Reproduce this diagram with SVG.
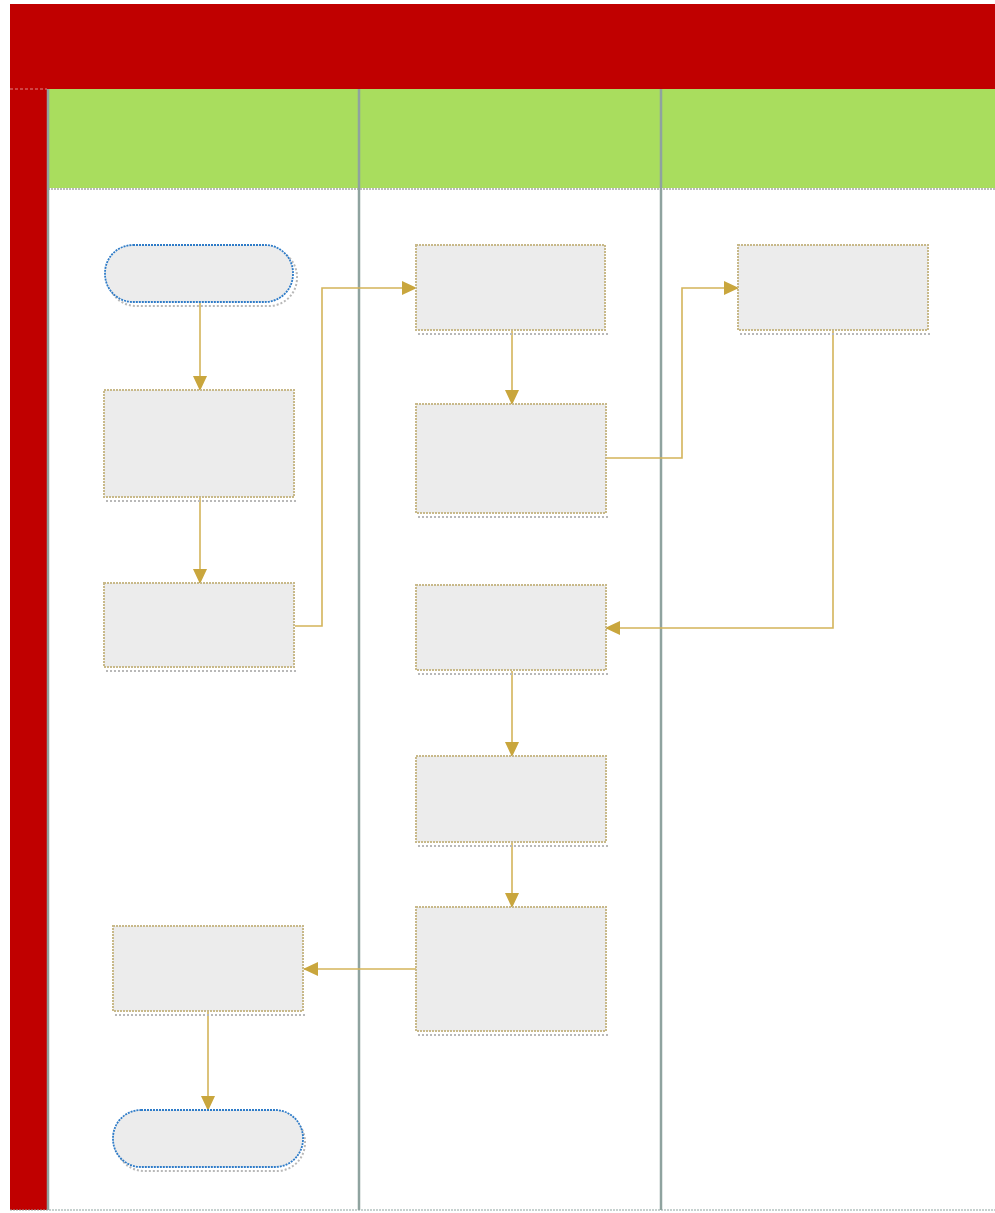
<svg xmlns="http://www.w3.org/2000/svg" width="995" height="1213" viewBox="0 0 995 1213">
<style>
.box{fill:#ECECEC;stroke:#C8B98A;stroke-width:2;stroke-dasharray:2 1}
.shadow{fill:none;stroke:#B8B8B8;stroke-width:2;stroke-dasharray:2 2}
.term{fill:#ECECEC;stroke:#2F7CC8;stroke-width:1.8;stroke-dasharray:2 1}
.conn{fill:none;stroke:#D4B45A;stroke-width:1.6}
.lane{stroke:#8FA39F;stroke-width:2.5}
</style>
<defs>
<marker id="arr" markerWidth="16" markerHeight="16" refX="14" refY="7" orient="auto" markerUnits="userSpaceOnUse">
<path d="M0,0 L15,7 L0,14 Z" fill="#C9A63D"/>
</marker>
</defs>
<rect x="0" y="0" width="995" height="1213" fill="#FFFFFF"/>
<g id="pool">
<rect x="10" y="4" width="985" height="85" fill="#C00000"/>
<rect x="10" y="89" width="37" height="1121" fill="#C00000"/>
<line x1="10" y1="89" x2="47" y2="89" stroke="#D88" stroke-width="1" stroke-dasharray="3 2"/>
<rect x="48" y="89" width="311" height="99" fill="#A9DD5E"/>
<rect x="360" y="89" width="301" height="99" fill="#A9DD5E"/>
<rect x="662" y="89" width="333" height="99" fill="#A9DD5E"/>
<line x1="48" y1="189" x2="995" y2="189" stroke="#BBBBBB" stroke-width="2" stroke-dasharray="2 1"/>
<line class="lane" x1="48" y1="89" x2="48" y2="1210"/>
<line class="lane" x1="359" y1="89" x2="359" y2="1210"/>
<line class="lane" x1="661" y1="89" x2="661" y2="1210"/>
<line x1="10" y1="1210" x2="995" y2="1210" stroke="#8FA39F" stroke-width="1" stroke-dasharray="2 1"/>
</g>
<g id="connectors">
<path class="conn" d="M200,303 V390" marker-end="url(#arr)"/>
<path class="conn" d="M200,498 V583" marker-end="url(#arr)"/>
<path class="conn" d="M295,626 H322 V288 H416" marker-end="url(#arr)"/>
<path class="conn" d="M512,331 V404" marker-end="url(#arr)"/>
<path class="conn" d="M607,458 H682 V288 H738" marker-end="url(#arr)"/>
<path class="conn" d="M833,331 V628 H606" marker-end="url(#arr)"/>
<path class="conn" d="M512,671 V756" marker-end="url(#arr)"/>
<path class="conn" d="M512,843 V907" marker-end="url(#arr)"/>
<path class="conn" d="M416,969 H304" marker-end="url(#arr)"/>
<path class="conn" d="M208,1012 V1110" marker-end="url(#arr)"/>
</g>
<g id="n1"><rect class="shadow" x="108" y="249" width="189" height="57" rx="28"/><rect class="term" x="105" y="245" width="188" height="57" rx="28"/></g>
<g id="n2"><line class="shadow" x1="106" y1="501" x2="296" y2="501"/><rect class="box" x="104" y="390" width="190" height="107"/></g>
<g id="n3"><line class="shadow" x1="106" y1="671" x2="296" y2="671"/><rect class="box" x="104" y="583" width="190" height="84"/></g>
<g id="n4"><line class="shadow" x1="418" y1="334" x2="608" y2="334"/><rect class="box" x="416" y="245" width="189" height="85"/></g>
<g id="n5"><line class="shadow" x1="418" y1="517" x2="608" y2="517"/><rect class="box" x="416" y="404" width="190" height="109"/></g>
<g id="n6"><line class="shadow" x1="740" y1="334" x2="930" y2="334"/><rect class="box" x="738" y="245" width="190" height="85"/></g>
<g id="n7"><line class="shadow" x1="418" y1="674" x2="608" y2="674"/><rect class="box" x="416" y="585" width="190" height="85"/></g>
<g id="n8"><line class="shadow" x1="418" y1="846" x2="608" y2="846"/><rect class="box" x="416" y="756" width="190" height="86"/></g>
<g id="n9"><line class="shadow" x1="418" y1="1035" x2="608" y2="1035"/><rect class="box" x="416" y="907" width="190" height="124"/></g>
<g id="n10"><line class="shadow" x1="115" y1="1015" x2="305" y2="1015"/><rect class="box" x="113" y="926" width="190" height="85"/></g>
<g id="n11"><rect class="shadow" x="116" y="1114" width="189" height="57" rx="28"/><rect class="term" x="113" y="1110" width="190" height="57" rx="28"/></g>
</svg>
